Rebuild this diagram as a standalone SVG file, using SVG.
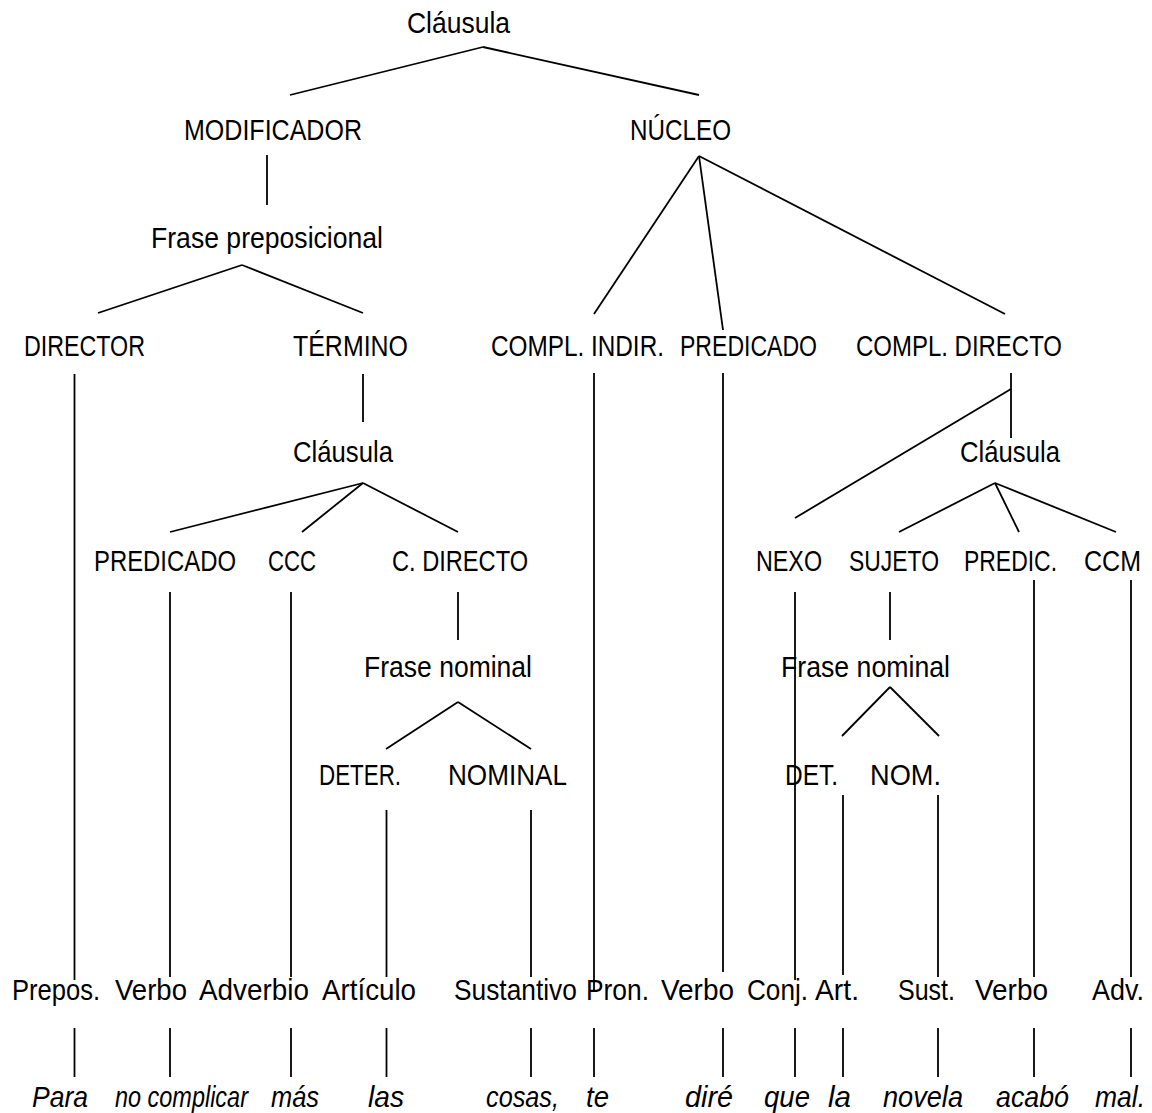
<svg xmlns="http://www.w3.org/2000/svg" width="1152" height="1113" viewBox="0 0 1152 1113">
<style>
text{font-family:"Liberation Sans Narrow","Liberation Sans",Arial,sans-serif;font-size:30px;fill:#000}
text.s{font-family:"Liberation Sans",Arial,sans-serif}
text.w{font-style:italic}
#connectors line{stroke:#000;stroke-width:1.8;fill:none}
</style>
<rect width="1152" height="1113" fill="#fff"/>
<g id="connectors">
<line x1="483" y1="47" x2="290" y2="95"/>
<line x1="483" y1="47" x2="699" y2="95"/>
<line x1="267" y1="155" x2="267" y2="205"/>
<line x1="242" y1="265" x2="98" y2="313"/>
<line x1="242" y1="265" x2="363" y2="313"/>
<line x1="699" y1="156" x2="594" y2="314"/>
<line x1="699" y1="156" x2="723" y2="330"/>
<line x1="699" y1="156" x2="1005" y2="314"/>
<line x1="74.5" y1="374" x2="74.5" y2="980"/>
<line x1="363" y1="374" x2="363" y2="422"/>
<line x1="594" y1="373" x2="594" y2="992"/>
<line x1="723" y1="373" x2="723" y2="972"/>
<line x1="1011" y1="373" x2="1011" y2="438"/>
<line x1="1011" y1="389" x2="795" y2="518"/>
<line x1="363" y1="483" x2="170" y2="532"/>
<line x1="363" y1="483" x2="302" y2="532"/>
<line x1="363" y1="483" x2="458" y2="532"/>
<line x1="995" y1="483" x2="899" y2="532"/>
<line x1="995" y1="483" x2="1019" y2="532"/>
<line x1="995" y1="483" x2="1116" y2="532"/>
<line x1="170" y1="592" x2="170" y2="977"/>
<line x1="291" y1="592" x2="291" y2="977"/>
<line x1="458" y1="592" x2="458" y2="640"/>
<line x1="795" y1="592" x2="795" y2="980"/>
<line x1="890" y1="592" x2="890" y2="640"/>
<line x1="1034" y1="580" x2="1034" y2="977"/>
<line x1="1131" y1="580" x2="1131" y2="977"/>
<line x1="458" y1="702" x2="386" y2="749"/>
<line x1="458" y1="702" x2="531" y2="749"/>
<line x1="890" y1="687" x2="842" y2="736"/>
<line x1="890" y1="687" x2="939" y2="736"/>
<line x1="386.5" y1="810" x2="386.5" y2="977"/>
<line x1="531" y1="810" x2="531" y2="977"/>
<line x1="843" y1="795" x2="843" y2="975"/>
<line x1="938" y1="795" x2="938" y2="977"/>
<line x1="74.5" y1="1028" x2="74.5" y2="1077"/>
<line x1="170" y1="1028" x2="170" y2="1077"/>
<line x1="291" y1="1028" x2="291" y2="1077"/>
<line x1="386.5" y1="1028" x2="386.5" y2="1077"/>
<line x1="531" y1="1028" x2="531" y2="1077"/>
<line x1="594" y1="1028" x2="594" y2="1077"/>
<line x1="723" y1="1028" x2="723" y2="1077"/>
<line x1="795" y1="1028" x2="795" y2="1077"/>
<line x1="843" y1="1028" x2="843" y2="1077"/>
<line x1="938" y1="1028" x2="938" y2="1077"/>
<line x1="1034" y1="1028" x2="1034" y2="1077"/>
<line x1="1131" y1="1028" x2="1131" y2="1077"/>
</g>
<g id="n-clausula-top"><text x="407" y="33" textLength="103" lengthAdjust="spacingAndGlyphs">Cláusula</text></g>
<g id="n-modificador"><text x="184" y="140" textLength="178" lengthAdjust="spacingAndGlyphs">MODIFICADOR</text></g>
<g id="n-nucleo"><text x="630" y="140" textLength="101" lengthAdjust="spacingAndGlyphs">NÚCLEO</text></g>
<g id="n-frase-prep"><text x="151" y="248" textLength="232" lengthAdjust="spacingAndGlyphs">Frase preposicional</text></g>
<g id="n-director"><text x="24" y="356" textLength="121" lengthAdjust="spacingAndGlyphs">DIRECTOR</text></g>
<g id="n-termino"><text x="293" y="356" textLength="115" lengthAdjust="spacingAndGlyphs">TÉRMINO</text></g>
<g id="n-compl-indir"><text class="s" x="0" y="0" transform="matrix(0.812 0 0 1 491 356)" textLength="213" lengthAdjust="spacingAndGlyphs">COMPL. INDIR.</text></g>
<g id="n-predicado-1"><text x="680" y="356" textLength="137" lengthAdjust="spacingAndGlyphs">PREDICADO</text></g>
<g id="n-compl-directo"><text x="856" y="356" textLength="206" lengthAdjust="spacingAndGlyphs">COMPL. DIRECTO</text></g>
<g id="n-clausula-2"><text x="293" y="462" textLength="100" lengthAdjust="spacingAndGlyphs">Cláusula</text></g>
<g id="n-clausula-3"><text x="960" y="462" textLength="100" lengthAdjust="spacingAndGlyphs">Cláusula</text></g>
<g id="n-predicado-2"><text x="94" y="571" textLength="142" lengthAdjust="spacingAndGlyphs">PREDICADO</text></g>
<g id="n-ccc"><text x="268" y="571" textLength="48" lengthAdjust="spacingAndGlyphs">CCC</text></g>
<g id="n-c-directo"><text x="392" y="571" textLength="136" lengthAdjust="spacingAndGlyphs">C. DIRECTO</text></g>
<g id="n-nexo"><text x="756" y="571" textLength="66" lengthAdjust="spacingAndGlyphs">NEXO</text></g>
<g id="n-sujeto"><text x="849" y="571" textLength="90" lengthAdjust="spacingAndGlyphs">SUJETO</text></g>
<g id="n-predic"><text x="964" y="571" textLength="93" lengthAdjust="spacingAndGlyphs">PREDIC.</text></g>
<g id="n-ccm"><text x="1084" y="571" textLength="57" lengthAdjust="spacingAndGlyphs">CCM</text></g>
<g id="n-frase-nom-1"><text x="364" y="677" textLength="168" lengthAdjust="spacingAndGlyphs">Frase nominal</text></g>
<g id="n-frase-nom-2"><text x="781" y="677" textLength="169" lengthAdjust="spacingAndGlyphs">Frase nominal</text></g>
<g id="n-deter"><text x="319" y="785" textLength="82" lengthAdjust="spacingAndGlyphs">DETER.</text></g>
<g id="n-nominal"><text x="448" y="785" textLength="119" lengthAdjust="spacingAndGlyphs">NOMINAL</text></g>
<g id="n-det"><text x="785" y="785" textLength="53" lengthAdjust="spacingAndGlyphs">DET.</text></g>
<g id="n-nom"><text x="870" y="785" textLength="71" lengthAdjust="spacingAndGlyphs">NOM.</text></g>
<g id="n-prepos"><text x="12" y="1000" textLength="88" lengthAdjust="spacingAndGlyphs">Prepos.</text></g>
<g id="n-verbo-1"><text x="115" y="1000" textLength="72" lengthAdjust="spacingAndGlyphs">Verbo</text></g>
<g id="n-adverbio"><text x="199" y="1000" textLength="110" lengthAdjust="spacingAndGlyphs">Adverbio</text></g>
<g id="n-articulo"><text x="322" y="1000" textLength="94" lengthAdjust="spacingAndGlyphs">Artículo</text></g>
<g id="n-sustantivo"><text class="s" x="0" y="0" transform="matrix(0.878 0 0 1 454 1000)" textLength="140" lengthAdjust="spacingAndGlyphs">Sustantivo</text></g>
<g id="n-pron"><text x="586" y="1000" textLength="63" lengthAdjust="spacingAndGlyphs">Pron.</text></g>
<g id="n-verbo-2"><text x="661" y="1000" textLength="73" lengthAdjust="spacingAndGlyphs">Verbo</text></g>
<g id="n-conj"><text x="747" y="1000" textLength="61" lengthAdjust="spacingAndGlyphs">Conj.</text></g>
<g id="n-art"><text x="815" y="1000" textLength="44" lengthAdjust="spacingAndGlyphs">Art.</text></g>
<g id="n-sust"><text x="898" y="1000" textLength="57" lengthAdjust="spacingAndGlyphs">Sust.</text></g>
<g id="n-verbo-3"><text x="975" y="1000" textLength="73" lengthAdjust="spacingAndGlyphs">Verbo</text></g>
<g id="n-adv"><text x="1092" y="1000" textLength="52" lengthAdjust="spacingAndGlyphs">Adv.</text></g>
<g id="w-para"><text class="w" x="32" y="1107" textLength="56" lengthAdjust="spacingAndGlyphs">Para</text></g>
<g id="w-no-complicar"><text class="w s" x="0" y="0" transform="matrix(0.782 0 0 1 115 1107)" textLength="170" lengthAdjust="spacingAndGlyphs">no complicar</text></g>
<g id="w-mas"><text class="w" x="271" y="1107" textLength="48" lengthAdjust="spacingAndGlyphs">más</text></g>
<g id="w-las"><text class="w" x="368" y="1107" textLength="36" lengthAdjust="spacingAndGlyphs">las</text></g>
<g id="w-cosas"><text class="w" x="486" y="1107" textLength="73" lengthAdjust="spacingAndGlyphs">cosas,</text></g>
<g id="w-te"><text class="w" x="586" y="1107" textLength="23" lengthAdjust="spacingAndGlyphs">te</text></g>
<g id="w-dire"><text class="w" x="685" y="1107" textLength="48" lengthAdjust="spacingAndGlyphs">diré</text></g>
<g id="w-que"><text class="w" x="764" y="1107" textLength="46" lengthAdjust="spacingAndGlyphs">que</text></g>
<g id="w-la"><text class="w" x="828" y="1107" textLength="23" lengthAdjust="spacingAndGlyphs">la</text></g>
<g id="w-novela"><text class="w" x="883" y="1107" textLength="80" lengthAdjust="spacingAndGlyphs">novela</text></g>
<g id="w-acabo"><text class="w" x="996" y="1107" textLength="73" lengthAdjust="spacingAndGlyphs">acabó</text></g>
<g id="w-mal"><text class="w" x="1095" y="1107" textLength="50" lengthAdjust="spacingAndGlyphs">mal.</text></g>
</svg>
